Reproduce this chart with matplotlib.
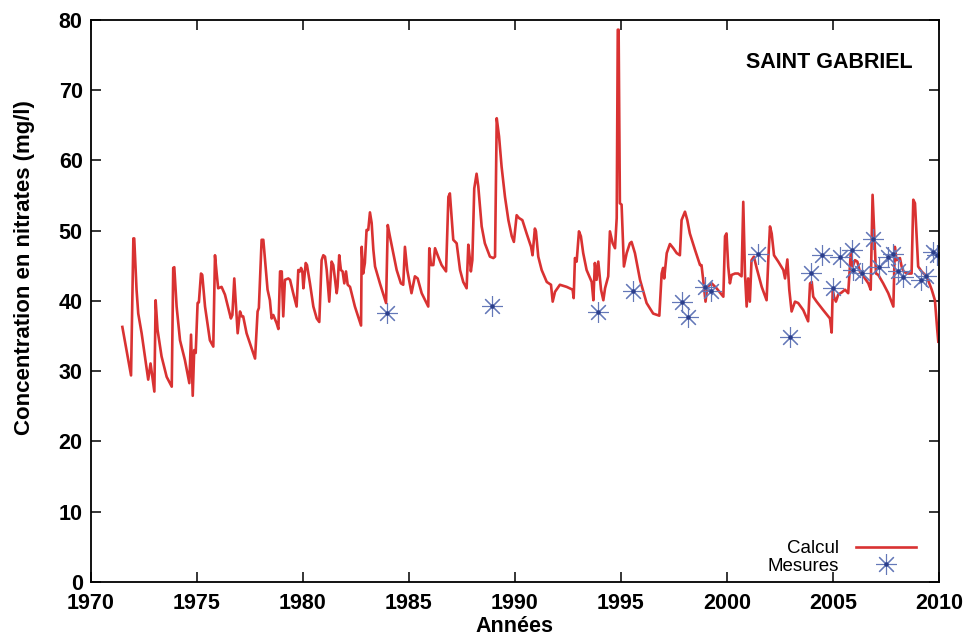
import matplotlib
matplotlib.use("Agg")
import matplotlib.pyplot as plt

plt.rcParams['font.family'] = ['Liberation Sans', 'DejaVu Sans']

# courbe calculee
calc_annee = [1971.48, 1971.89, 1972.00, 1972.04, 1972.15, 1972.23, 1972.39, 1972.70, 1972.81, 1972.99,
              1973.05, 1973.14, 1973.33, 1973.57, 1973.81, 1973.88, 1973.93, 1974.04, 1974.20, 1974.43,
              1974.64, 1974.72, 1974.80, 1974.87, 1974.94, 1975.03, 1975.09, 1975.19, 1975.25, 1975.38,
              1975.61, 1975.77, 1975.85, 1975.93, 1976.00, 1976.16, 1976.32, 1976.60, 1976.67, 1976.76,
              1976.84, 1976.92, 1977.03, 1977.11, 1977.18, 1977.34, 1977.74, 1977.86, 1977.92, 1978.05,
              1978.13, 1978.33, 1978.44, 1978.52, 1978.60, 1978.76, 1978.84, 1978.92, 1979.00, 1979.07,
              1979.15, 1979.31, 1979.39, 1979.54, 1979.70, 1979.78, 1979.86, 1979.91, 1979.97, 1980.02,
              1980.13, 1980.19, 1980.33, 1980.49, 1980.65, 1980.77, 1980.88, 1980.96, 1981.04, 1981.12,
              1981.24, 1981.35, 1981.43, 1981.59, 1981.63, 1981.71, 1981.79, 1981.87, 1981.95, 1982.03,
              1982.11, 1982.22, 1982.45, 1982.74, 1982.77, 1982.84, 1982.92, 1983.00, 1983.08, 1983.16,
              1983.24, 1983.32, 1983.40, 1983.63, 1983.92, 1984.00, 1984.10, 1984.26, 1984.42, 1984.62,
              1984.73, 1984.81, 1984.92, 1985.12, 1985.28, 1985.41, 1985.60, 1985.91, 1985.96, 1986.04,
              1986.15, 1986.23, 1986.38, 1986.54, 1986.75, 1986.86, 1986.93, 1987.09, 1987.25, 1987.41,
              1987.56, 1987.72, 1987.80, 1987.88, 1987.92, 1987.99, 1988.08, 1988.19, 1988.27, 1988.43,
              1988.58, 1988.82, 1988.98, 1989.06, 1989.14, 1989.25, 1989.37, 1989.53, 1989.69, 1989.85,
              1989.95, 1990.08, 1990.19, 1990.35, 1990.55, 1990.76, 1990.83, 1990.94, 1990.99, 1991.10,
              1991.26, 1991.50, 1991.70, 1991.78, 1991.89, 1992.12, 1992.44, 1992.72, 1992.77, 1992.83,
              1992.91, 1993.02, 1993.11, 1993.22, 1993.38, 1993.62, 1993.70, 1993.77, 1993.85, 1993.93,
              1994.06, 1994.17, 1994.25, 1994.40, 1994.48, 1994.61, 1994.72, 1994.80, 1994.85, 1994.89,
              1994.95, 1995.03, 1995.14, 1995.27, 1995.42, 1995.50, 1995.66, 1995.90, 1996.21, 1996.52,
              1996.81, 1996.92, 1996.99, 1997.04, 1997.16, 1997.31, 1997.47, 1997.63, 1997.78, 1997.86,
              1998.02, 1998.13, 1998.25, 1998.49, 1998.73, 1998.80, 1998.88, 1998.99, 1999.07, 1999.28,
              1999.51, 1999.83, 1999.91, 1999.98, 2000.06, 2000.14, 2000.22, 2000.38, 2000.53, 2000.69,
              2000.77, 2000.85, 2000.93, 2001.00, 2001.08, 2001.16, 2001.27, 2001.40, 2001.64, 2001.87,
              2001.95, 2002.03, 2002.11, 2002.22, 2002.42, 2002.66, 2002.74, 2002.85, 2002.94, 2003.05,
              2003.21, 2003.36, 2003.60, 2003.83, 2003.92, 2004.00, 2004.07, 2004.23, 2004.54, 2004.86,
              2004.94, 2004.99, 2005.05, 2005.14, 2005.25, 2005.41, 2005.57, 2005.72, 2005.84, 2005.93,
              2006.04, 2006.15, 2006.27, 2006.51, 2006.67, 2006.78, 2006.87, 2006.95, 2007.03, 2007.14,
              2007.37, 2007.61, 2007.85, 2007.92, 2008.00, 2008.16, 2008.24, 2008.33, 2008.50, 2008.71,
              2008.79, 2008.87, 2009.02, 2009.18, 2009.42, 2009.66, 2009.81, 2009.92, 2009.97]
calc_no3 = [36.3, 29.4, 48.9, 48.9, 41.6, 38.2, 35.4, 28.8, 31.1, 27.1,
            40.1, 35.9, 32.1, 29.2, 27.8, 44.7, 44.8, 39.2, 34.4, 31.6,
            28.3, 35.2, 26.5, 33.0, 32.6, 39.7, 39.8, 43.9, 43.7, 39.2,
            34.4, 33.5, 46.5, 43.9, 41.8, 42.0, 40.9, 37.5, 38.0, 43.2,
            39.2, 35.4, 38.5, 37.8, 37.8, 35.4, 31.8, 38.5, 39.0, 48.7,
            48.7, 41.6, 40.1, 37.5, 38.0, 36.8, 36.0, 44.2, 44.2, 37.8,
            43.0, 43.2, 43.0, 41.1, 39.2, 44.4, 44.2, 44.7, 44.2, 41.8,
            45.4, 45.1, 42.5, 39.2, 37.5, 37.0, 45.8, 46.5, 46.3, 44.4,
            39.9, 45.6, 45.1, 41.1, 42.0, 46.5, 44.4, 44.2, 42.5, 44.2,
            42.3, 42.0, 39.2, 36.5, 47.7, 43.9, 45.4, 50.1, 50.1, 52.6,
            51.1, 47.3, 44.9, 42.5, 39.7, 50.8, 49.2, 46.8, 44.4, 42.5,
            42.3, 47.7, 44.4, 41.1, 43.5, 43.2, 41.1, 39.2, 47.5, 45.1,
            45.1, 47.5, 46.3, 45.1, 44.2, 54.8, 55.3, 48.7, 48.2, 44.4,
            42.7, 41.8, 48.0, 45.8, 44.2, 45.8, 56.0, 58.1, 56.3, 50.6,
            48.2, 46.3, 46.1, 46.3, 66.0, 63.4, 59.1, 54.8, 51.5, 49.2,
            48.4, 52.2, 51.8, 51.5, 49.6, 47.7, 46.5, 50.3, 49.9, 46.3,
            44.4, 42.7, 42.3, 39.9, 41.3, 42.3, 42.0, 41.6, 40.4, 46.1,
            45.6, 49.9, 49.2, 46.8, 44.4, 42.7, 40.1, 45.4, 43.0, 45.6,
            41.6, 40.1, 41.8, 43.5, 49.9, 48.2, 47.5, 51.8, 78.6, 78.6,
            53.9, 53.7, 44.9, 46.8, 48.2, 48.4, 46.8, 43.0, 39.7, 38.2,
            37.9, 43.9, 44.7, 43.2, 46.8, 48.1, 47.5, 46.8, 46.5, 51.5,
            52.7, 51.5, 49.6, 47.3, 45.1, 45.1, 43.0, 39.9, 42.0, 42.5,
            41.8, 40.6, 49.2, 49.6, 44.9, 42.5, 43.7, 43.9, 43.9, 43.5,
            54.1, 43.9, 39.2, 43.2, 39.9, 45.8, 46.3, 44.7, 42.0, 40.1,
            45.8, 50.6, 49.6, 46.5, 45.6, 44.4, 43.2, 45.9, 41.6, 38.5,
            39.9, 39.7, 38.7, 37.1, 42.5, 42.7, 40.6, 39.9, 38.7, 37.5,
            35.5, 41.6, 40.6, 39.9, 40.9, 41.2, 41.6, 41.1, 46.8, 44.9,
            45.8, 45.6, 44.2, 43.2, 42.5, 41.6, 55.1, 49.6, 43.9, 43.7,
            42.5, 41.1, 39.2, 47.7, 45.8, 46.1, 44.9, 44.2, 43.9, 43.9,
            54.4, 53.9, 44.9, 44.2, 43.5, 41.6, 40.1, 35.9, 34.2]

# mesures
mes_annee = [1983.96, 1988.90, 1993.90, 1995.57, 1997.86, 1998.18, 1998.96, 1999.25, 2001.48,
             2002.97, 2003.96, 2004.47, 2004.98, 2005.33, 2005.91, 2005.96, 2006.35, 2006.90,
             2007.17, 2007.61, 2007.85, 2008.05, 2008.32, 2009.15, 2009.39, 2009.70, 2009.89]
mes_no3 = [38.3, 39.3, 38.4, 41.4, 39.9, 37.7, 42.0, 41.4, 46.7,
           34.9, 44.0, 46.5, 41.9, 46.3, 47.2, 44.4, 44.0, 48.8,
           44.8, 46.2, 46.7, 44.2, 43.4, 43.0, 43.6, 47.0, 46.5]

fig = plt.figure(figsize=(9.74, 6.4), dpi=100)
ax = fig.add_axes([0.0934, 0.0906, 0.8706, 0.8784])

l1, = ax.plot(calc_annee, calc_no3, color='#d93232', lw=1.9, label='Calcul')
m1, = ax.plot(mes_annee, mes_no3, ls='none', marker=(8, 2, 0), ms=15, mew=0.8,
              color='#6478b8', label='Mesures')
m2, = ax.plot(mes_annee, mes_no3, ls='none', marker='o', ms=2.2, color='#2c3f8c')

ax.set_xlim(1970, 2010)
ax.set_ylim(0, 80)
ax.set_xticks(range(1970, 2011, 5))
ax.set_yticks(range(0, 81, 10))
ax.tick_params(direction='in', length=7, width=1.1, top=True, right=True,
               labelsize=15.5, pad=6)
ax.tick_params(axis='x', pad=8)
for lab in ax.get_xticklabels() + ax.get_yticklabels():
    lab.set_fontweight('bold')
for s in ax.spines.values():
    s.set_linewidth(1.3)

ax.set_xlabel('Années', fontsize=15.5, fontweight='bold', labelpad=1)
ax.set_ylabel('Concentration en nitrates (mg/l)', fontsize=16, fontweight='bold')
ax.yaxis.set_label_coords(-0.066, 0.56)

ax.text(0.871, 0.925, 'SAINT GABRIEL', transform=ax.transAxes, ha='center', va='center',
        fontsize=15.5, fontweight='bold')

ax.legend([l1, (m1, m2)], ['Calcul', 'Mesures'], loc='lower right', frameon=False,
          markerfirst=False, fontsize=13.5, handlelength=3.2, borderaxespad=0.3,
          labelspacing=0.0, handletextpad=0.9, bbox_to_anchor=(0.988, -0.01))

fig.savefig('out.png', dpi=100)
